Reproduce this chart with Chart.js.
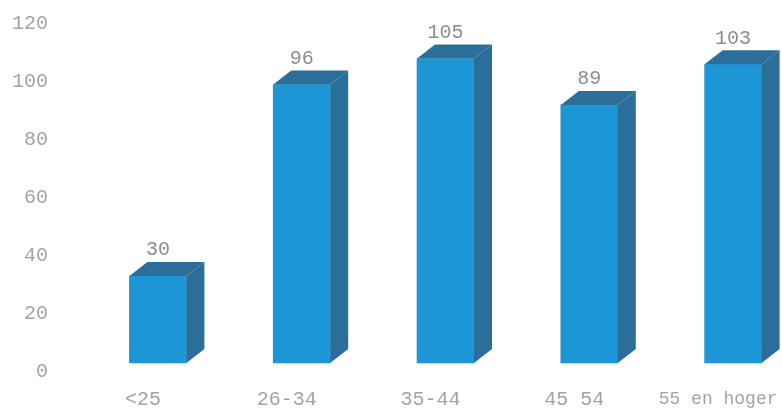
<!DOCTYPE html>
<html lang="nl">
<head>
<meta charset="UTF-8">
<title>Leeftijdsgroepen</title>
<style>
html, body { margin: 0; padding: 0; background: #fff; overflow: hidden; }
.wrap { width: 782px; height: 412px; }
</style>
</head>
<body>
<div class="wrap"><canvas id="chart"></canvas></div>
<script src="https://cdn.jsdelivr.net/npm/chart.js"></script>
<script>
const categories = ['<25', '26-34', '35-44', '45 54', '55 en hoger'];
const counts = [30, 96, 105, 89, 103];
const yTicks = [0, 20, 40, 60, 80, 100, 120];

const FRONT = '#1c96d4';
const SIDE = '#2c6e9a';
const DX = 18, DY = 14;

// draws the side and top faces plus the value above each bar
const depthBars = {
    id: 'depthBars',
    afterDatasetsDraw(chart) {
        const ctx = chart.ctx;
        const meta = chart.getDatasetMeta(0);
        ctx.save();
        meta.data.forEach((bar, i) => {
            const { x, y, base, width } = bar.getProps(['x', 'y', 'base', 'width'], true);
            const l = x - width / 2, r = x + width / 2;
            ctx.fillStyle = SIDE;
            ctx.beginPath();
            ctx.moveTo(r, y);
            ctx.lineTo(r + DX, y - DY);
            ctx.lineTo(r + DX, base - DY);
            ctx.lineTo(r, base);
            ctx.closePath();
            ctx.fill();

            ctx.beginPath();
            ctx.moveTo(l, y);
            ctx.lineTo(l + DX, y - DY);
            ctx.lineTo(r + DX, y - DY);
            ctx.lineTo(r, y);
            ctx.closePath();
            ctx.fill();

            ctx.fillStyle = '#8c8c8c';
            ctx.font = '20px "Liberation Mono"';
            ctx.textAlign = 'center';
            ctx.textBaseline = 'middle';
            ctx.fillText(String(counts[i]), x, y - 26);
        });
        ctx.restore();
    }
};

new Chart(document.getElementById('chart'), {
    type: 'bar',
    data: {
        datasets: [{
            data: counts.map((v, i) => ({ x: i, y: v })),
            backgroundColor: FRONT,
            borderWidth: 0,
            barThickness: 57,
            clip: false
        }]
    },
    options: {
        responsive: true,
        maintainAspectRatio: false,
        animation: false,
        layout: { padding: { top: 15, left: 0, right: 0, bottom: 0 } },
        plugins: {
            legend: { display: false },
            tooltip: { enabled: false }
        },
        scales: {
            x: {
                type: 'linear',
                offset: false,
                min: -0.5,
                max: 4.34,
                grid: { display: false, drawTicks: false, offset: false },
                border: { display: false },
                afterBuildTicks: scale => {
                    scale.ticks = categories.map((c, i) => ({ value: i }));
                },
                afterFit: scale => {
                    scale.height = 49;
                    scale.paddingLeft = 0;
                    scale.paddingRight = 0;
                },
                ticks: {
                    color: '#a3a3a3',
                    font: c => ({ family: 'Liberation Mono', size: c.index === 4 ? 18 : 20 }),
                    padding: 25,
                    labelOffset: -15,
                    maxRotation: 0,
                    autoSkip: false,
                    callback: v => categories[v]
                }
            },
            y: {
                min: 0,
                max: 120,
                grid: { display: false, drawTicks: false },
                border: { display: false },
                afterBuildTicks: scale => {
                    scale.ticks = yTicks.map(v => ({ value: v }));
                },
                afterFit: scale => {
                    scale.width = 86;
                    scale.paddingTop = 0;
                    scale.paddingBottom = 0;
                },
                ticks: {
                    color: '#a3a3a3',
                    font: { family: 'Liberation Mono', size: 20 },
                    padding: 38,
                    labelOffset: 9
                }
            }
        }
    },
    plugins: [depthBars]
});
</script>
</body>
</html>
